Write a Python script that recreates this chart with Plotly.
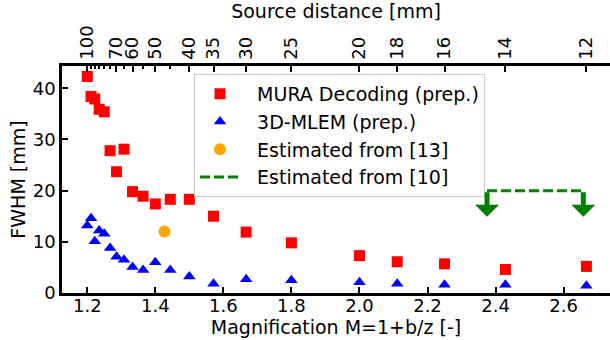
import plotly.graph_objects as go

# Source-to-mask distances z [mm] and the corresponding magnification M = 1 + b/z
source_distance = [100, 95, 90, 85, 80, 75, 70, 65, 60, 55, 50, 45, 40, 35, 30, 25, 20, 18, 16, 14, 12]
magnification = [1.2, 1.211, 1.222, 1.235, 1.25, 1.267, 1.286, 1.308, 1.333, 1.364, 1.4,
                 1.444, 1.5, 1.571, 1.667, 1.8, 2.0, 2.111, 2.25, 2.429, 2.667]

fwhm_mura = [42.3, 38.4, 37.9, 35.9, 35.4, 27.8, 23.7, 28.1, 19.8, 18.9, 17.4,
             18.3, 18.3, 15.0, 11.9, 9.8, 7.3, 6.1, 5.7, 4.6, 5.2]
fwhm_mlem = [13.2, 14.6, 10.1, 12.2, 11.6, 8.8, 7.1, 6.5, 5.1, 4.5, 6.0,
             4.5, 3.2, 1.8, 2.7, 2.5, 2.1, 1.8, 1.6, 1.6, 1.4]

# literature estimates
ref13_m = [1.427]
ref13_fwhm = [12.0]
ref10_m = [2.375, 2.658]
ref10_fwhm = [20.0, 20.0]
ref10_arrow_tip = 14.9

# top axis labels (source distance) and minor ticks
top_labels = [100, 70, 60, 50, 40, 35, 30, 25, 20, 18, 16, 14, 12]
top_minor = [95, 90, 85, 80, 75, 65, 55, 45]
b_mm = 20.0  # detector-mask distance used for the secondary axis


def dist_to_mag(z):
    return 1.0 + b_mm / z


x_ticks = [1.2, 1.4, 1.6, 1.8, 2.0, 2.2, 2.4, 2.6]
y_ticks = [0, 10, 20, 30, 40]

FONT = "DejaVu Sans"
NB = "\u00a0\u00a0"
TICK_SIZE = 18
TITLE_SIZE = 19

fig = go.Figure()
fig.add_trace(go.Scatter(
    x=magnification, y=fwhm_mura, mode="markers", name=NB + "MURA Decoding (prep.)",
    marker=dict(symbol="square", size=11, color="#ff0000", line=dict(width=0))))
fig.add_trace(go.Scatter(
    x=magnification, y=fwhm_mlem, mode="markers", name=NB + "3D-MLEM (prep.)",
    marker=dict(symbol="triangle-up", size=11, color="#0000ff", line=dict(width=0))))
fig.add_trace(go.Scatter(
    x=ref13_m, y=ref13_fwhm, mode="markers", name=NB + "Estimated from [13]",
    marker=dict(symbol="circle", size=12, color="#ffa500", line=dict(width=0))))
fig.add_trace(go.Scatter(
    x=ref10_m, y=ref10_fwhm, mode="lines", name=NB + "Estimated from [10]",
    line=dict(color="#008000", width=3, dash="10px,4px")))

# invisible trace so the top axis is drawn
fig.add_trace(go.Scatter(
    x=magnification, y=fwhm_mlem, xaxis="x2", mode="markers",
    marker=dict(opacity=0), showlegend=False, hoverinfo="skip"))

# downward arrows at both ends of the [10] estimate
for xm, ym in zip(ref10_m, ref10_fwhm):
    fig.add_annotation(
        x=xm, y=ref10_arrow_tip, ax=xm, ay=ym, xref="x", yref="y", axref="x", ayref="y",
        showarrow=True, arrowhead=1, arrowsize=0.8, arrowwidth=5, arrowcolor="#008000", text="")

x_range = [1.1257, 2.7364]
axis_common = dict(
    showline=True, linecolor="black", linewidth=2.5, ticks="inside", ticklen=6,
    tickwidth=2, tickcolor="black", showgrid=False, zeroline=False,
    tickfont=dict(family=FONT, size=TICK_SIZE, color="black"),
)

fig.update_layout(
    width=610, height=340,
    margin=dict(l=62, r=0, t=66, b=47),
    paper_bgcolor="white", plot_bgcolor="white",
    font=dict(family=FONT, color="black"),
    showlegend=True,
    legend=dict(
        x=0.2409, y=0.965, xanchor="left", yanchor="top",
        bgcolor="rgba(255,255,255,0.85)", bordercolor="#cccccc", borderwidth=1,
        font=dict(family=FONT, size=TITLE_SIZE, color="black"), itemwidth=40,
    ),
    xaxis=dict(
        range=x_range, tickvals=x_ticks, ticktext=[f"{v:.1f}" for v in x_ticks],
        ticklabelstandoff=-5,
        title=dict(text="Magnification M=1+b/z [-]", font=dict(family=FONT, size=TITLE_SIZE), standoff=0),
        **axis_common),
    xaxis2=dict(
        range=x_range, overlaying="x", side="top", anchor="y",
        tickvals=[dist_to_mag(z) for z in top_labels], ticktext=[str(z) for z in top_labels],
        tickangle=-90,
        minor=dict(tickvals=[dist_to_mag(z) for z in top_minor], ticks="inside",
                   ticklen=3.5, tickwidth=1.5, tickcolor="black"),
        title=dict(text="Source distance [mm]", font=dict(family=FONT, size=TITLE_SIZE), standoff=2),
        **axis_common),
    yaxis=dict(
        range=[0, 44.35], tickvals=y_ticks,
        title=dict(text="FWHM [mm]", font=dict(family=FONT, size=TITLE_SIZE), standoff=3),
        **axis_common),
)

fig.write_html("out.html")
